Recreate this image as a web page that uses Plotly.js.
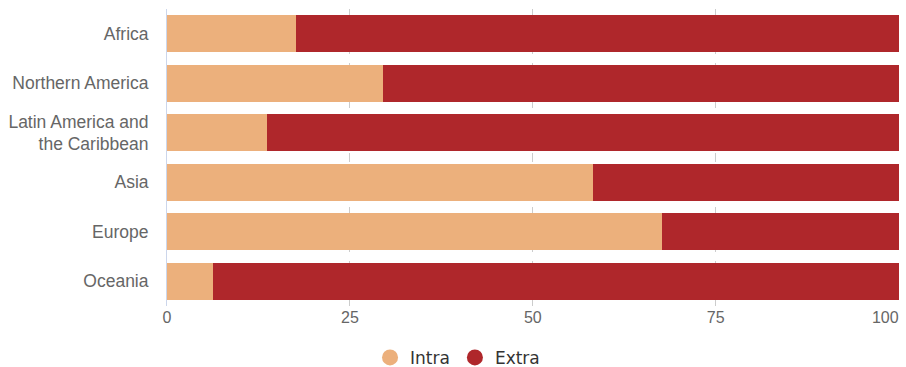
<!DOCTYPE html>
<html><head><meta charset="utf-8">
<script src="https://cdn.plot.ly/plotly-3.0.1.min.js"></script>
<style>html,body{margin:0;padding:0;background:#fff;}#chart{width:906px;height:367px;}</style>
</head><body><div id="chart"></div>
<script>
const regions = ["Africa", "Northern America", "Latin America and<br>the Caribbean", "Asia", "Europe", "Oceania"];
const intra = [17.6, 29.5, 13.6, 58.2, 67.6, 6.3];
const extra = intra.map(v => +(100 - v).toFixed(1));
const seriesNames = ["Intra", "Extra"];
const colors = ["#ecb07c", "#af272b"];
const tickVals = [0, 25, 50, 75, 100];
const tickText = ["0", "25", "50", "75", "100"];

const traces = [
  {type: "bar", orientation: "h", y: regions, x: intra, name: seriesNames[0], marker: {color: colors[0]}, showlegend: false},
  {type: "bar", orientation: "h", y: regions, x: extra, name: seriesNames[1], marker: {color: colors[1]}, showlegend: false},
  {type: "scatter", mode: "markers", x: [null], y: [null], name: seriesNames[0], marker: {color: colors[0], symbol: "circle", size: 16}, showlegend: true},
  {type: "scatter", mode: "markers", x: [null], y: [null], name: seriesNames[1], marker: {color: colors[1], symbol: "circle", size: 16}, showlegend: true},
  {type: "scatter", mode: "markers", x: [null], y: [null], xaxis: "x2", showlegend: false, hoverinfo: "skip"}
];

const commonX = {
  range: [0, 100.05], zeroline: false, showline: false, ticks: "", ticklen: 0,
  tickfont: {size: 16, color: "#666"}, automargin: false,
  showgrid: true, gridcolor: "#cccccc", griddash: "dash", gridwidth: 1
};

const layout = {
  width: 906, height: 367,
  margin: {l: 167, r: 7, t: 9, b: 61, autoexpand: false},
  barmode: "stack",
  bargap: 0.25,
  paper_bgcolor: "#fff", plot_bgcolor: "#fff",
  font: {family: "Liberation Sans, Arial, sans-serif", size: 16, color: "#666"},
  xaxis: Object.assign({}, commonX, {
    tickvals: tickVals.slice(0, 4), ticktext: tickText.slice(0, 4)
  }),
  xaxis2: Object.assign({}, commonX, {
    overlaying: "x", side: "bottom",
    tickvals: tickVals.slice(4), ticktext: tickText.slice(4),
    ticklabelposition: "outside left"
  }),
  yaxis: {
    autorange: "reversed", type: "category",
    showgrid: false, zeroline: false,
    showline: true, linecolor: "#ccd6eb", linewidth: 1,
    ticks: "", ticklen: 0, ticklabelstandoff: 14,
    tickfont: {size: 17.5, color: "#666"}, automargin: false
  },
  showlegend: true,
  legend: {
    orientation: "h", xref: "container", yref: "container",
    x: 0.505, xanchor: "center", y: 0.025, yanchor: "middle",
    traceorder: "normal",
    font: {family: "DejaVu Sans, sans-serif", size: 17, color: "#333"},
    itemwidth: 30, tracegroupgap: 0
  }
};

Plotly.newPlot("chart", traces, layout, {displayModeBar: false, staticPlot: true});
</script></body></html>
